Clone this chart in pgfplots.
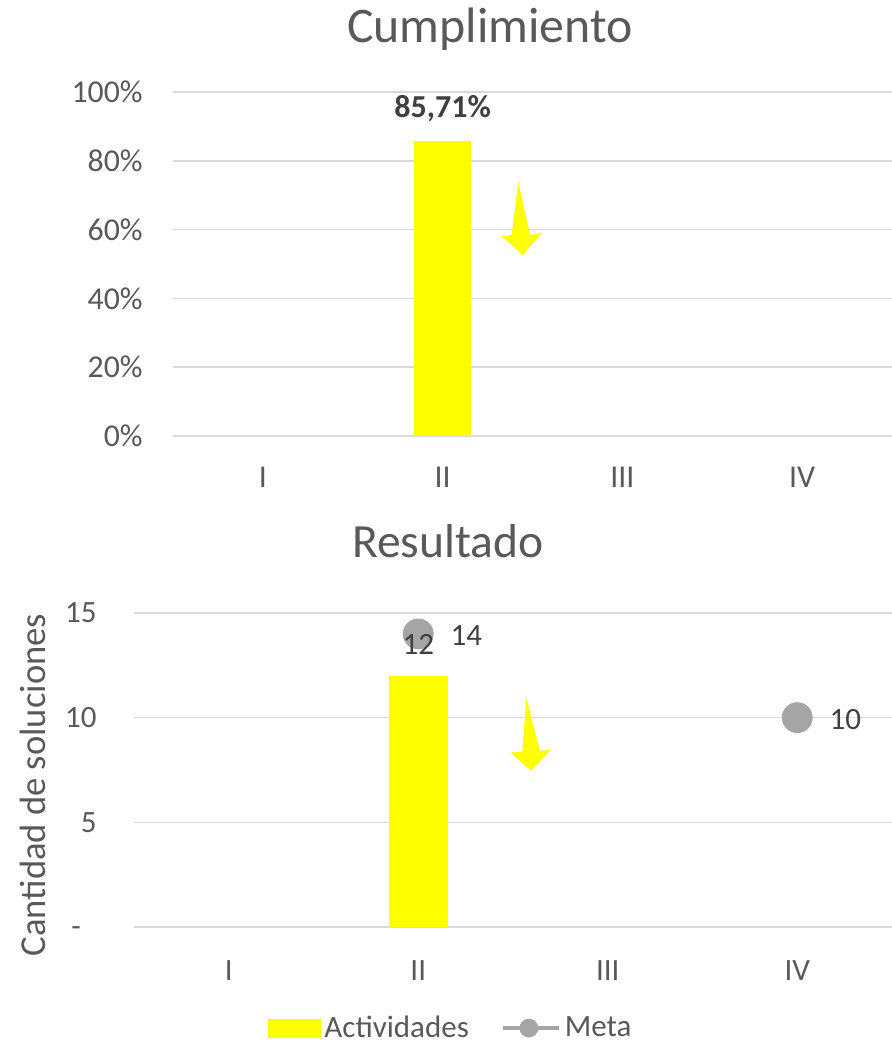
\documentclass[border=0pt]{standalone}
\usepackage{fontspec}
\setmainfont{Carlito}
\usepackage{pgfplots}
\pgfplotsset{compat=1.18}
\definecolor{txt}{HTML}{595959}
\definecolor{lbl}{HTML}{404040}
\definecolor{gridc}{HTML}{D9D9D9}
\definecolor{metac}{HTML}{A5A5A5}
\definecolor{amarillo}{HTML}{FFFF00}
\begin{document}
\begin{tikzpicture}
\useasboundingbox (0,0) rectangle (446pt,522pt);
\node[anchor=base, font=\fontsize{24.9}{28}\selectfont, text=txt] at (245pt,500.5pt) {Cumplimiento};
\node[anchor=base, font=\fontsize{23.8}{28}\selectfont, text=txt] at (224pt,243pt) {Resultado};
\node[anchor=base, rotate=90, font=\fontsize{18.3}{20}\selectfont, text=txt] at (22.5pt,129.5pt) {Cantidad de soluciones};

\begin{axis}[
 at={(86.5pt,304pt)}, anchor=south west,
 scale only axis, width=359.5pt, height=172pt,
 xmin=-0.5, xmax=3.5, ymin=0, ymax=100,
 xtick={0,1,2,3}, xticklabels={I,II,III,IV},
 ytick={0,20,40,60,80,100}, yticklabels={0\%,20\%,40\%,60\%,80\%,100\%},
 major tick length=0pt,
 axis line style={draw=none},
 ymajorgrids, grid style={draw=gridc, line width=0.75pt},
 tick label style={text=txt, font=\fontsize{15.9}{18}\selectfont},
 yticklabel style={anchor=east, inner sep=0pt, xshift=-15pt},
 xticklabel style={anchor=base, inner sep=0pt, yshift=-26pt},
 clip=false,
]
\addplot[ybar, bar width=28.5pt, fill=amarillo, draw=none,
  nodes near coords={\textbf{85,71\%}},
  every node near coord/.append style={anchor=south, inner sep=0pt, yshift=9.5pt, text=lbl, font=\fontsize{16}{19}\selectfont}]
  coordinates {(1,85.71)};
\fill[amarillo] (axis cs:1.421,73.9) -- (axis cs:1.486,58.4) -- (axis cs:1.551,59.0) -- (axis cs:1.446,52.6) -- (axis cs:1.329,58.1) -- (axis cs:1.384,58.4) -- cycle;
\end{axis}

\begin{axis}[
 at={(67pt,58.5pt)}, anchor=south west,
 scale only axis, width=379pt, height=157pt,
 xmin=-0.5, xmax=3.5, ymin=0, ymax=15,
 xtick={0,1,2,3}, xticklabels={I,II,III,IV},
 ytick={0,5,10,15}, yticklabels={-\phantom{0},5,10,15},
 major tick length=0pt,
 axis line style={draw=none},
 ymajorgrids, grid style={draw=gridc, line width=0.75pt},
 tick label style={text=txt, font=\fontsize{15.5}{18}\selectfont},
 yticklabel style={anchor=east, inner sep=0pt, xshift=-18.5pt},
 xticklabel style={anchor=base, inner sep=0pt, yshift=-26.5pt},
 /pgf/number format/assume math mode=true,
 clip=false,
 legend style={at={(0.419,-0.322)}, anchor=center, draw=none, fill=none,
   legend columns=2, font=\fontsize{15.5}{18}\selectfont, text=txt,
   /tikz/every even column/.append style={column sep=14pt}},
 legend cell align=left,
]
\addplot[only marks, color=metac, mark=*, mark size=7.5pt, mark options={fill=metac, draw=metac},
  nodes near coords, forget plot,
  every node near coord/.append style={anchor=west, inner sep=0pt, xshift=16pt, yshift=-1pt, text=lbl, font=\fontsize{15.5}{18}\selectfont}]
  coordinates {(1,14) (3,10)};
\addplot[ybar, bar width=29.5pt, fill=amarillo, draw=none,
  nodes near coords, forget plot,
  every node near coord/.append style={anchor=south, inner sep=0pt, yshift=10.5pt, text=lbl, font=\fontsize{15.5}{18}\selectfont}]
  coordinates {(1,12)};
\addlegendimage{legend image code/.code={\fill[amarillo] (0pt,-4.5pt) rectangle (26pt,4.5pt);}}
\addlegendentry{Actividades}
\addlegendimage{legend image code/.code={\draw[metac, line width=2pt] (0pt,0pt) -- (28pt,0pt); \fill[metac] (13pt,0pt) circle (4.5pt);}}
\addlegendentry{Meta}
\fill[amarillo] (axis cs:1.571,10.93) -- (axis cs:1.642,8.42) -- (axis cs:1.698,8.46) -- (axis cs:1.596,7.47) -- (axis cs:1.487,8.33) -- (axis cs:1.549,8.38) -- cycle;
\end{axis}
\end{tikzpicture}
\end{document}
